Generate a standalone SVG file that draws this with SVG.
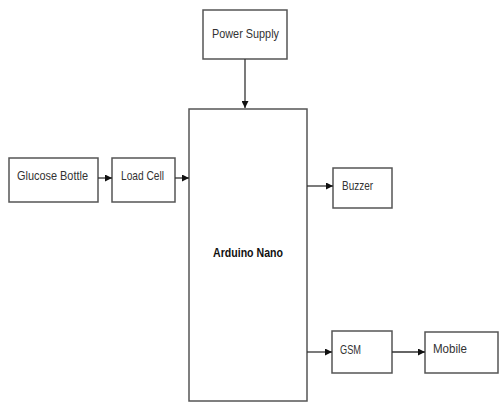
<svg xmlns="http://www.w3.org/2000/svg" width="499" height="403" viewBox="0 0 499 403">
<defs>
<marker id="ah" viewBox="0 0 10 10" refX="10" refY="5" markerWidth="7" markerHeight="7" markerUnits="userSpaceOnUse" orient="auto">
<path d="M0,0 L10,5 L0,10 z" fill="#111"/>
</marker>
<style>
.box{fill:#fff;stroke:#555;stroke-width:1.5}
.t{font-family:"Liberation Sans",Arial,sans-serif;font-size:13px;fill:#333;dominant-baseline:central}
.b{font-weight:bold;fill:#111}
.c{stroke:#333;stroke-width:1.3;fill:none;marker-end:url(#ah)}
</style>
</defs>
<rect width="499" height="403" fill="#fff"/>
<g id="power">
<rect class="box" x="203" y="10" width="84" height="49"/>
<text class="t" x="212" y="33" textLength="67" lengthAdjust="spacingAndGlyphs">Power Supply</text>
</g>
<g id="arduino">
<rect class="box" x="189" y="109" width="118" height="292"/>
<text class="t b" x="213" y="252" textLength="70" lengthAdjust="spacingAndGlyphs">Arduino Nano</text>
</g>
<g id="glucose">
<rect class="box" x="9" y="158" width="89" height="44"/>
<text class="t" x="17" y="175" textLength="71" lengthAdjust="spacingAndGlyphs">Glucose Bottle</text>
</g>
<g id="loadcell">
<rect class="box" x="112" y="158" width="63" height="44"/>
<text class="t" x="121" y="175" textLength="43" lengthAdjust="spacingAndGlyphs">Load Cell</text>
</g>
<g id="buzzer">
<rect class="box" x="333" y="168" width="59" height="40"/>
<text class="t" x="342" y="185" textLength="31" lengthAdjust="spacingAndGlyphs">Buzzer</text>
</g>
<g id="gsm">
<rect class="box" x="332" y="331" width="60" height="42"/>
<text class="t" x="340" y="349" textLength="21" lengthAdjust="spacingAndGlyphs">GSM</text>
</g>
<g id="mobile">
<rect class="box" x="425" y="332" width="73" height="41"/>
<text class="t" x="433" y="348" textLength="34" lengthAdjust="spacingAndGlyphs">Mobile</text>
</g>
<g id="connectors">
<line class="c" x1="245" y1="59" x2="245" y2="108"/>
<line class="c" x1="98" y1="178" x2="112" y2="178"/>
<line class="c" x1="175" y1="178" x2="189" y2="178"/>
<line class="c" x1="307" y1="186" x2="333" y2="186"/>
<line class="c" x1="307" y1="352" x2="332" y2="352"/>
<line class="c" x1="392" y1="352" x2="425" y2="352"/>
</g>
</svg>
